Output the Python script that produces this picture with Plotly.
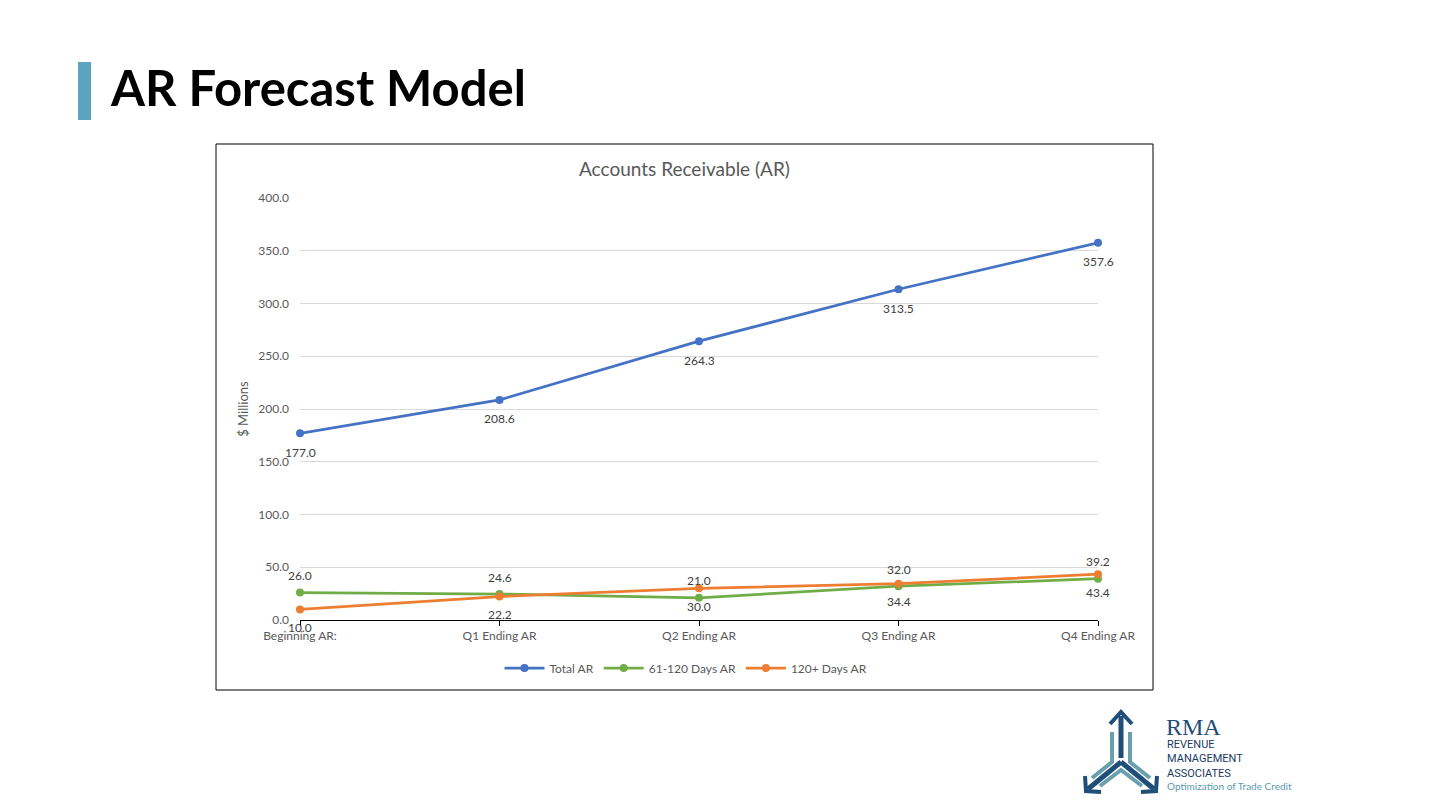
import plotly.graph_objects as go

categories = ["Beginning AR:", "Q1 Ending AR", "Q2 Ending AR", "Q3 Ending AR", "Q4 Ending AR"]
total_ar = [177.0, 208.6, 264.3, 313.5, 357.6]
days_61_120 = [26.0, 24.6, 21.0, 32.0, 39.2]
days_120_plus = [10.0, 22.2, 30.0, 34.4, 43.4]
y_ticks = [0, 50, 100, 150, 200, 250, 300, 350, 400]

W, H = 1440, 810
FONT = "Lato"
GRAY = "#595959"
LABEL = "#404040"

# plot area in page pixels
PL, PR, PT, PB = 300, 1098, 198, 620

def px(x):
    return (x - PL) / (PR - PL)

def py(y):
    return (PB - y) / (PB - PT)

fig = go.Figure()

series = [
    ("Total AR", total_ar, "#4472C4", 19),
    ("61-120 Days AR", days_61_120, "#70AD47", -17),
    ("120+ Days AR", days_120_plus, "#ED7D31", 18),
]

annotations = []
for name, vals, color, shift in series:
    fig.add_trace(go.Scatter(
        x=categories, y=vals, name=name, mode="lines+markers",
        line=dict(color=color, width=2.75), marker=dict(size=8, color=color),
        cliponaxis=False,
    ))
    for c, v in zip(categories, vals):
        annotations.append(dict(
            x=c, y=v, xref="x", yref="y", text=f"{v:.1f}", showarrow=False,
            yshift=-shift, xanchor="center", yanchor="middle",
            font=dict(family=FONT, size=12, color=LABEL),
        ))

shapes = []
# chart border
shapes.append(dict(type="rect", xref="paper", yref="paper",
                   x0=px(216), x1=px(1153), y0=py(690), y1=py(144),
                   line=dict(color="#000000", width=1), fillcolor="rgba(0,0,0,0)", layer="below"))
# slide title accent bar
shapes.append(dict(type="rect", xref="paper", yref="paper",
                   x0=px(78), x1=px(91), y0=py(120), y1=py(62),
                   line=dict(width=0), fillcolor="#5BA3BE"))

def path(points):
    return "M " + " L ".join(f"{px(a):.5f},{py(b):.5f}" for a, b in points)

NAVY = "#1F4E79"
TEAL = "#6A9FAE"
# vertical arrow (navy)
shapes.append(dict(type="path", xref="paper", yref="paper",
                   path=path([(1121, 716), (1121, 758)]), line=dict(color=NAVY, width=5)))
shapes.append(dict(type="path", xref="paper", yref="paper",
                   path=path([(1110, 724), (1121, 712), (1132, 724)]), line=dict(color=NAVY, width=4)))
# lower left arrow
shapes.append(dict(type="path", xref="paper", yref="paper",
                   path=path([(1121, 762), (1088, 789)]), line=dict(color=NAVY, width=5)))
shapes.append(dict(type="path", xref="paper", yref="paper",
                   path=path([(1085, 776), (1086, 791), (1101, 792)]), line=dict(color=NAVY, width=4)))
# lower right arrow
shapes.append(dict(type="path", xref="paper", yref="paper",
                   path=path([(1121, 762), (1154, 789)]), line=dict(color=NAVY, width=5)))
shapes.append(dict(type="path", xref="paper", yref="paper",
                   path=path([(1157, 776), (1156, 791), (1141, 792)]), line=dict(color=NAVY, width=4)))
# teal side bars
shapes.append(dict(type="path", xref="paper", yref="paper",
                   path=path([(1112, 732), (1112, 762), (1092, 778)]), line=dict(color=TEAL, width=4)))
shapes.append(dict(type="path", xref="paper", yref="paper",
                   path=path([(1130, 732), (1130, 762), (1150, 778)]), line=dict(color=TEAL, width=4)))
shapes.append(dict(type="path", xref="paper", yref="paper",
                   path=path([(1100, 786), (1121, 770), (1142, 786)]), line=dict(color=TEAL, width=4)))

annotations += [
    dict(text="<b>AR Forecast Model</b>", x=px(108), y=py(87), xref="paper", yref="paper",
         xanchor="left", yanchor="middle", showarrow=False,
         font=dict(family=FONT, size=49, color="#000000")),
    dict(text="Accounts Receivable (AR)", x=px(684), y=py(169), xref="paper", yref="paper",
         xanchor="center", yanchor="middle", showarrow=False,
         font=dict(family=FONT, size=19, color=GRAY)),
    dict(text="RMA", x=px(1164), y=py(727), xref="paper", yref="paper",
         xanchor="left", yanchor="middle", showarrow=False,
         font=dict(family="Liberation Serif", size=24, color=NAVY)),
    dict(text="REVENUE<br>MANAGEMENT<br>ASSOCIATES", x=px(1165), y=py(759), xref="paper", yref="paper",
         xanchor="left", yanchor="middle", showarrow=False, align="left",
         font=dict(family="Roboto", size=11, color="#1B3A5E")),
    dict(text="Optimization of Trade Credit", x=px(1165), y=py(786), xref="paper", yref="paper",
         xanchor="left", yanchor="middle", showarrow=False,
         font=dict(family=FONT, size=10, color="#5B9BB0")),
]

fig.update_layout(
    width=W, height=H,
    paper_bgcolor="white", plot_bgcolor="white",
    margin=dict(l=PL, r=W - PR, t=PT, b=H - PB, autoexpand=False),
    font=dict(family=FONT, size=12, color=GRAY),
    showlegend=True,
    legend=dict(orientation="h", x=px(686), y=py(668), xanchor="center", yanchor="middle",
                font=dict(family=FONT, size=12, color=GRAY), bgcolor="rgba(0,0,0,0)",
                itemwidth=40, traceorder="normal"),
    shapes=shapes,
    annotations=annotations,
    xaxis=dict(type="category", range=[0, 4], showgrid=False, showline=True,
               linecolor="#000000", linewidth=1, ticks="outside", ticklen=5,
               tickcolor="#000000", tickfont=dict(family=FONT, size=12, color=GRAY),
               zeroline=False, fixedrange=True),
    yaxis=dict(range=[0, 400], tickvals=y_ticks, tickformat=".1f", showgrid=True,
               gridcolor="#D9D9D9", gridwidth=1, showline=False, zeroline=False,
               ticks="", ticklabelstandoff=10,
               tickfont=dict(family=FONT, size=12, color=GRAY),
               title=dict(text="$ Millions", font=dict(family=FONT, size=13, color=GRAY),
                          standoff=6)),
)

fig.write_html("out.html", config={"displayModeBar": False},
               post_script="document.body.style.margin='0';")
